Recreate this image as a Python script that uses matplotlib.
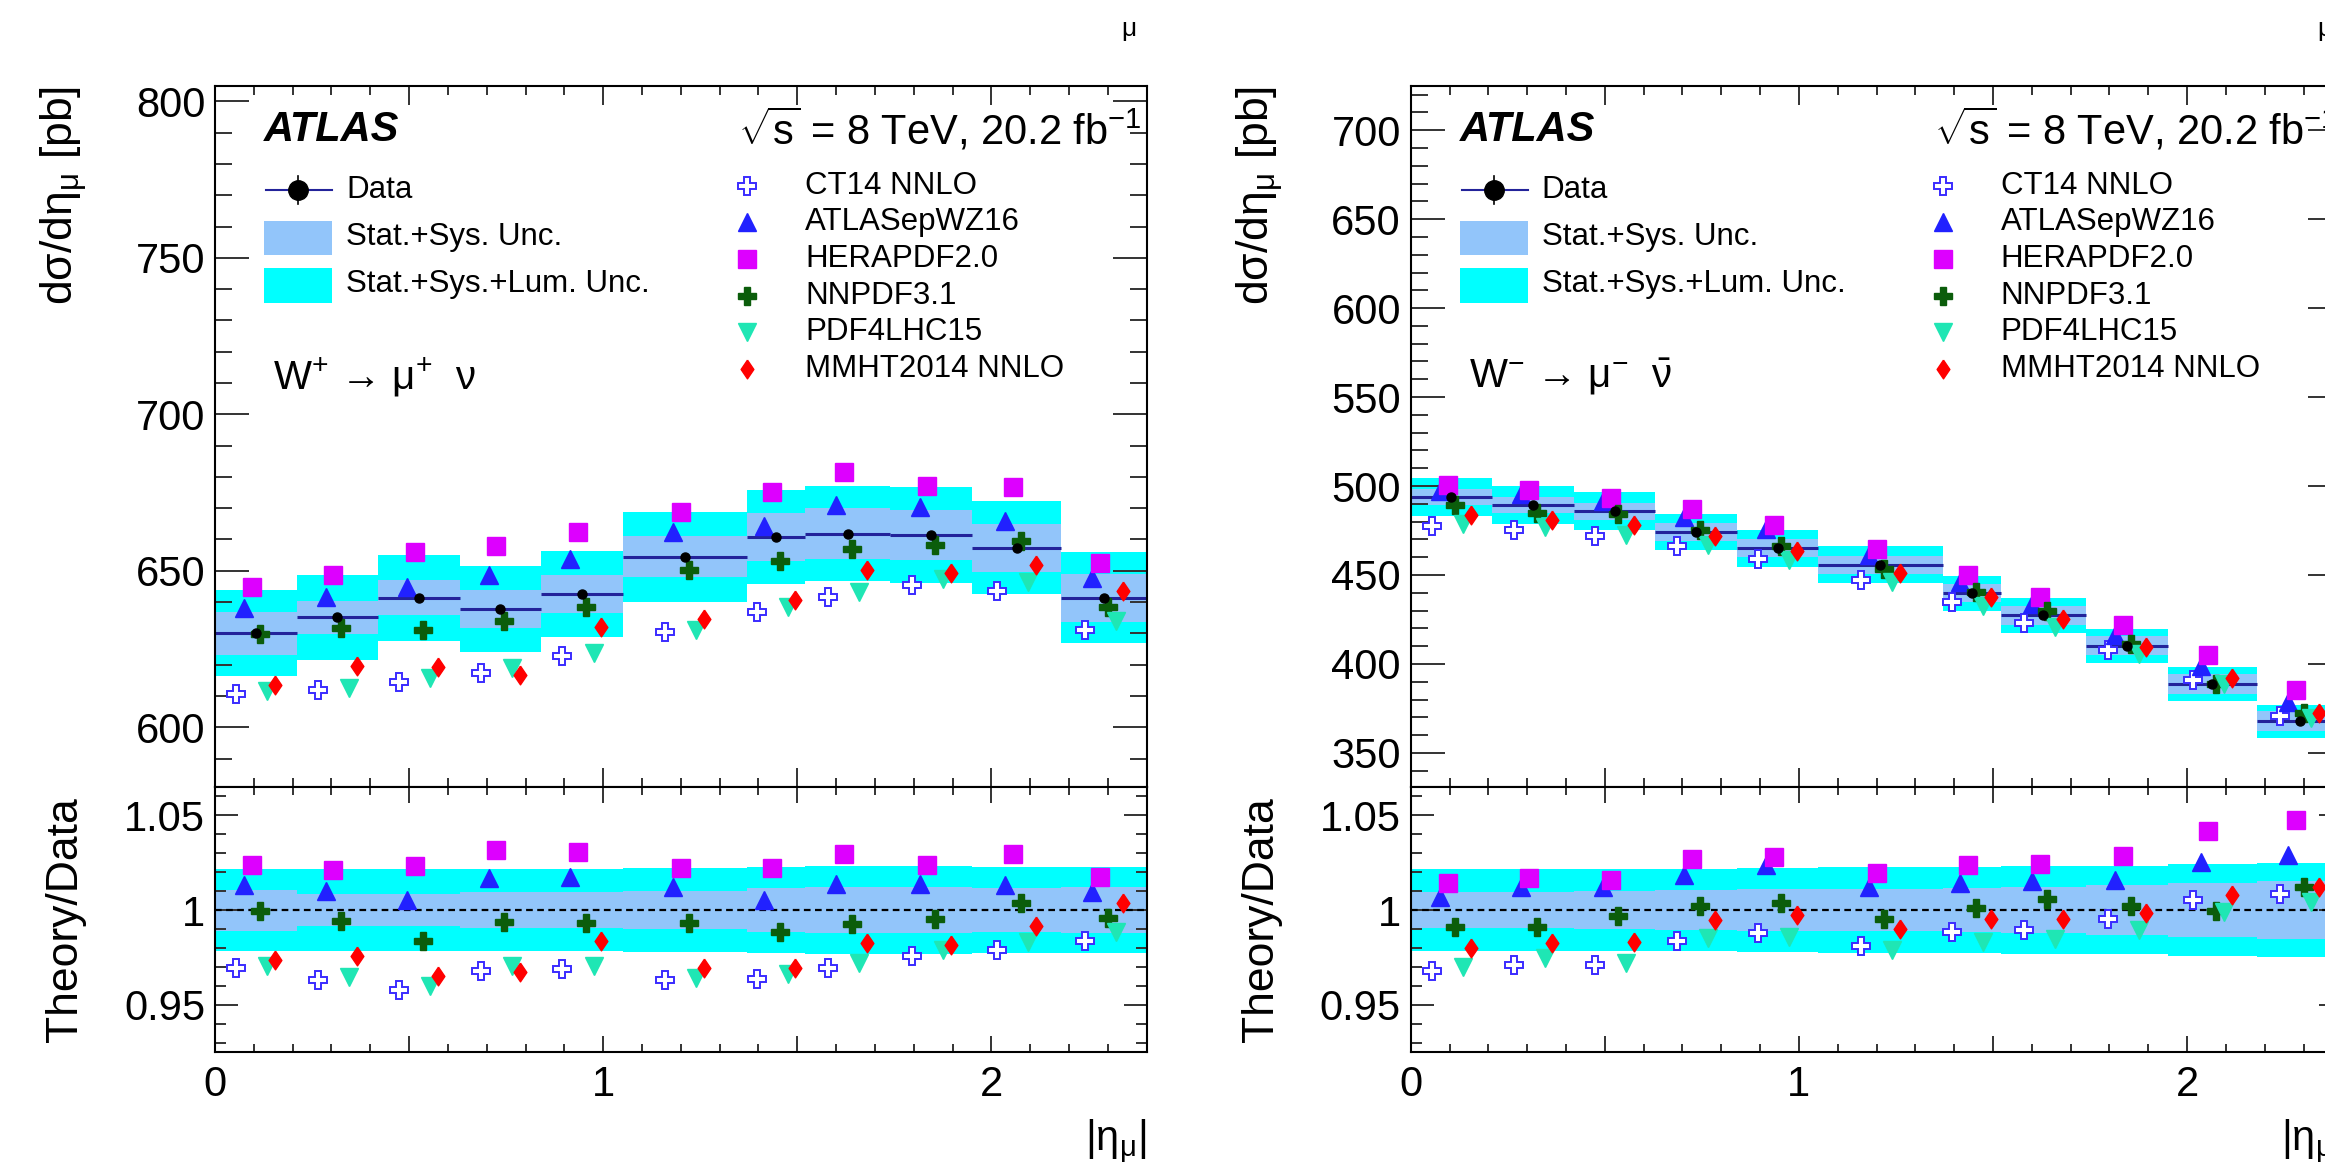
import numpy as np
import matplotlib
matplotlib.use('Agg')
import matplotlib.pyplot as plt
from matplotlib.patches import Rectangle
from matplotlib.ticker import MultipleLocator, FuncFormatter

plt.rcParams['font.family'] = ['Liberation Sans', 'DejaVu Sans']
plt.rcParams['mathtext.fontset'] = 'custom'
plt.rcParams['mathtext.rm'] = 'Liberation Sans'
plt.rcParams['mathtext.it'] = 'Liberation Sans:italic'
plt.rcParams['mathtext.bf'] = 'Liberation Sans:bold'
plt.rcParams['mathtext.default'] = 'regular'

# |eta_mu| bins
eta_edges = [0, 0.21, 0.42, 0.63, 0.84, 1.05, 1.37, 1.52, 1.74, 1.95, 2.18, 2.4]

# measured d(sigma)/d(eta) [pb]
data_wp = [630.0, 635.2, 641.4, 637.8, 642.6, 654.5, 660.8, 661.9, 661.4, 657.3, 641.4]
data_wm = [493.7, 489.4, 485.9, 474.1, 464.9, 455.7, 439.7, 427.3, 410.1, 388.8, 367.8]

# relative half-widths of the bands
syst_wp = [0.0108, 0.0083, 0.0086, 0.0094, 0.0094, 0.0101, 0.0115, 0.0122, 0.0120, 0.0116, 0.0120]
total_wp = [0.0218, 0.0214, 0.0214, 0.0214, 0.0214, 0.0219, 0.0227, 0.0230, 0.0230, 0.0226, 0.0226]
syst_wm = [0.0094, 0.0094, 0.0098, 0.0106, 0.0109, 0.0113, 0.0117, 0.0122, 0.0130, 0.0144, 0.0153]
total_wm = [0.0217, 0.0215, 0.0217, 0.0217, 0.0223, 0.0227, 0.0227, 0.0231, 0.0233, 0.0243, 0.0250]

# theory / data
ct14_wp = [0.9694, 0.9633, 0.9580, 0.9677, 0.9690, 0.9633, 0.9636, 0.9694, 0.9759, 0.9790, 0.9839]
atlas_wp = [1.0131, 1.0101, 1.0052, 1.0170, 1.0175, 1.0122, 1.0052, 1.0136, 1.0136, 1.0131, 1.0096]
hera_wp = [1.0236, 1.0210, 1.0230, 1.0315, 1.0306, 1.0219, 1.0219, 1.0297, 1.0236, 1.0294, 1.0175]
nnpdf_wp = [0.9997, 0.9944, 0.9839, 0.9939, 0.9934, 0.9934, 0.9886, 0.9927, 0.9951, 1.0035, 0.9956]
pdf4lhc_wp = [0.9706, 0.9645, 0.9598, 0.9706, 0.9706, 0.9642, 0.9663, 0.9720, 0.9790, 0.9834, 0.9886]
mmht_wp = [0.9738, 0.9755, 0.9654, 0.9671, 0.9837, 0.9694, 0.9694, 0.9825, 0.9816, 0.9916, 1.0035]

ct14_wm = [0.9677, 0.9712, 0.9712, 0.9837, 0.9878, 0.9808, 0.9883, 0.9895, 0.9951, 1.0052, 1.0084]
atlas_wm = [1.0070, 1.0122, 1.0122, 1.0184, 1.0236, 1.0122, 1.0140, 1.0154, 1.0157, 1.0253, 1.0288]
hera_wm = [1.0140, 1.0171, 1.0157, 1.0271, 1.0280, 1.0196, 1.0236, 1.0245, 1.0283, 1.0414, 1.0472]
nnpdf_wm = [0.9909, 0.9909, 0.9970, 1.0023, 1.0035, 0.9953, 1.0012, 1.0058, 1.0021, 0.9997, 1.0122]
pdf4lhc_wm = [0.9699, 0.9747, 0.9720, 0.9851, 0.9857, 0.9790, 0.9834, 0.9846, 0.9895, 0.9991, 1.0044]
mmht_wm = [0.9802, 0.9825, 0.9834, 0.9948, 0.9974, 0.9900, 0.9951, 0.9951, 0.9983, 1.0079, 1.0122]

model_names = ['CT14 NNLO', 'ATLASepWZ16', 'HERAPDF2.0', 'NNPDF3.1', 'PDF4LHC15', 'MMHT2014 NNLO']

# styles
LIGHTBLUE = '#92c5fa'
CYAN = '#00ffff'
DATALINE = '#23239a'
thin_diamond = [(0, 1), (0.68, 0), (0, -1), (-0.68, 0), (0, 1)]
model_style = [
    dict(marker='P', mfc='white', mec='#3a2bff', mew=1.4, ms=13.5),
    dict(marker='^', mfc='#2121ff', mec='#2121ff', ms=13.5),
    dict(marker='s', mfc='#dd00ff', mec='#dd00ff', ms=13.5),
    dict(marker='P', mfc='#0b5d0b', mec='#0b5d0b', ms=13.5),
    dict(marker='v', mfc='#1fe6b4', mec='#1fe6b4', ms=13.5),
    dict(marker=thin_diamond, mfc='#ff0000', mec='#ff0000', ms=13.5),
]
model_shift = [-0.05, -0.03, -0.01, 0.01, 0.03, 0.05]

W, H = 2325, 1172
fig = plt.figure(figsize=(W / 100, H / 100), dpi=100)


def px_box(x0, y_top, y_bot, width=931.7):
    return [x0 / W, 1 - y_bot / H, width / W, (y_bot - y_top) / H]


def int_label(v, pos):
    return '%d' % round(v) if abs(v - round(v)) < 1e-6 else ''


def style_axes(ax, ymaj, ymin, ylen, xlen):
    ax.set_xlim(0, 2.4)
    ax.xaxis.set_major_locator(MultipleLocator(0.5))
    ax.xaxis.set_minor_locator(MultipleLocator(0.1))
    ax.yaxis.set_major_locator(MultipleLocator(ymaj))
    ax.yaxis.set_minor_locator(MultipleLocator(ymin))
    ax.tick_params(which='both', direction='in', top=True, right=True,
                   width=1.4, color='#333333', labelsize=30, pad=7)
    ax.tick_params(axis='y', which='major', length=ylen)
    ax.tick_params(axis='y', which='minor', length=ylen / 2)
    ax.tick_params(axis='x', which='major', length=xlen)
    ax.tick_params(axis='x', which='minor', length=xlen / 2)
    for s in ax.spines.values():
        s.set_linewidth(1.5)


def draw_legend(ax, proc_label):
    tr = ax.transAxes
    ax.text(0.0526, 0.9368, 'ATLAS', transform=tr, fontsize=30,
            fontweight='bold', fontstyle='italic', va='center')
    ax.text(0.5613, 0.9368, r'$\sqrt{s}$ = 8 TeV, 20.2 fb$^{-1}$', transform=tr,
            fontsize=30, va='center')
    # data entry
    ax.plot([0.0547, 0.1256], [0.8512, 0.8512], color=DATALINE, lw=1.5, transform=tr)
    ax.plot([0.0891, 0.0891], [0.8312, 0.8712], color='k', lw=1.2, transform=tr)
    ax.plot([0.0891], [0.8512], 'o', color='k', ms=14, transform=tr)
    ax.add_patch(Rectangle((0.0526, 0.7585), 0.073, 0.0492, transform=tr,
                           facecolor=LIGHTBLUE, edgecolor='none'))
    ax.add_patch(Rectangle((0.0526, 0.6907), 0.073, 0.0493, transform=tr,
                           facecolor=CYAN, edgecolor='none'))
    for y, lab in zip([0.8512, 0.7842, 0.7167],
                      ['Data', 'Stat.+Sys. Unc.', 'Stat.+Sys.+Lum. Unc.']):
        ax.text(0.1406, y, lab, transform=tr, fontsize=22.5, va='center')
    ax.text(0.0623, 0.5845, proc_label, transform=tr, fontsize=29, va='center')
    # theory entries
    for i, (name, st) in enumerate(zip(model_names, model_style)):
        y = 0.8575 - i * 0.0523
        ax.plot([0.571], [y], ls='none', transform=tr, clip_on=False, **st)
        ax.text(0.6333, y, name, transform=tr, fontsize=22.5, va='center')
    ax.text(0.981, 1.0809, 'μ', transform=tr, fontsize=19, ha='center', va='center')


def draw_panel(x0, data, syst, total, ratios, ylim, proc_label):
    ax = fig.add_axes(px_box(x0, 85.7, 786.7))
    axr = fig.add_axes(px_box(x0, 786.7, 1052.3), sharex=ax)
    edges = np.array(eta_edges)
    lo, hi = edges[:-1], edges[1:]
    width = hi - lo
    centre = 0.5 * (lo + hi)
    data = np.array(data)
    syst = np.array(syst)
    total = np.array(total)

    # upper panel
    ax.bar(lo, 2 * data * total, bottom=data * (1 - total), width=width,
           align='edge', color=CYAN, linewidth=0, zorder=1)
    ax.bar(lo, 2 * data * syst, bottom=data * (1 - syst), width=width,
           align='edge', color=LIGHTBLUE, linewidth=0, zorder=1)
    ax.hlines(data, lo, hi, color=DATALINE, lw=2.2, zorder=2)
    for r, st, dx in zip(ratios, model_style, model_shift):
        ax.plot(centre + dx, data * np.array(r), ls='none', zorder=3, **st)
    ax.plot(centre, data, 'o', color='k', ms=6.5, zorder=4)
    ax.set_ylim(*ylim)
    style_axes(ax, 50, 10, 24.5, 13.5)
    ax.tick_params(axis='x', labelbottom=False)
    ax.set_ylabel('dσ/dη$_{μ}$ [pb]', fontsize=32, loc='top')
    ax.yaxis.set_label_coords(-0.134, 1.0)

    # ratio panel
    axr.bar(lo, 2 * total, bottom=1 - total, width=width, align='edge',
            color=CYAN, linewidth=0, zorder=1)
    axr.bar(lo, 2 * syst, bottom=1 - syst, width=width, align='edge',
            color=LIGHTBLUE, linewidth=0, zorder=1)
    axr.axhline(1.0, color='k', lw=1.6, ls=(0, (3, 2)), zorder=2)
    for r, st, dx in zip(ratios, model_style, model_shift):
        axr.plot(centre + dx, r, ls='none', zorder=3, **st)
    axr.set_ylim(0.925, 1.065)
    style_axes(axr, 0.05, 0.01, 16.5, 11.5)
    axr.yaxis.set_major_formatter(FuncFormatter(lambda v, p: '%g' % round(v, 3)))
    axr.xaxis.set_major_formatter(FuncFormatter(int_label))
    axr.tick_params(axis='x', pad=9)
    axr.set_ylabel('Theory/Data', fontsize=32)
    axr.yaxis.set_label_coords(-0.138, 0.5)
    axr.set_xlabel('|η$_{μ}$|', fontsize=30, loc='right')
    axr.xaxis.set_label_coords(1.0, -0.247)
    draw_legend(ax, proc_label)


draw_panel(215, data_wp, syst_wp, total_wp,
           [ct14_wp, atlas_wp, hera_wp, nnpdf_wp, pdf4lhc_wp, mmht_wp],
           (581, 805), 'W$^{+}$ → μ$^{+}$  ν')
draw_panel(1410.7, data_wm, syst_wm, total_wm,
           [ct14_wm, atlas_wm, hera_wm, nnpdf_wm, pdf4lhc_wm, mmht_wm],
           (331, 725), r'W$^{-}$ → μ$^{-}$  $\bar{ν}$')

fig.savefig('out.png', dpi=100)
